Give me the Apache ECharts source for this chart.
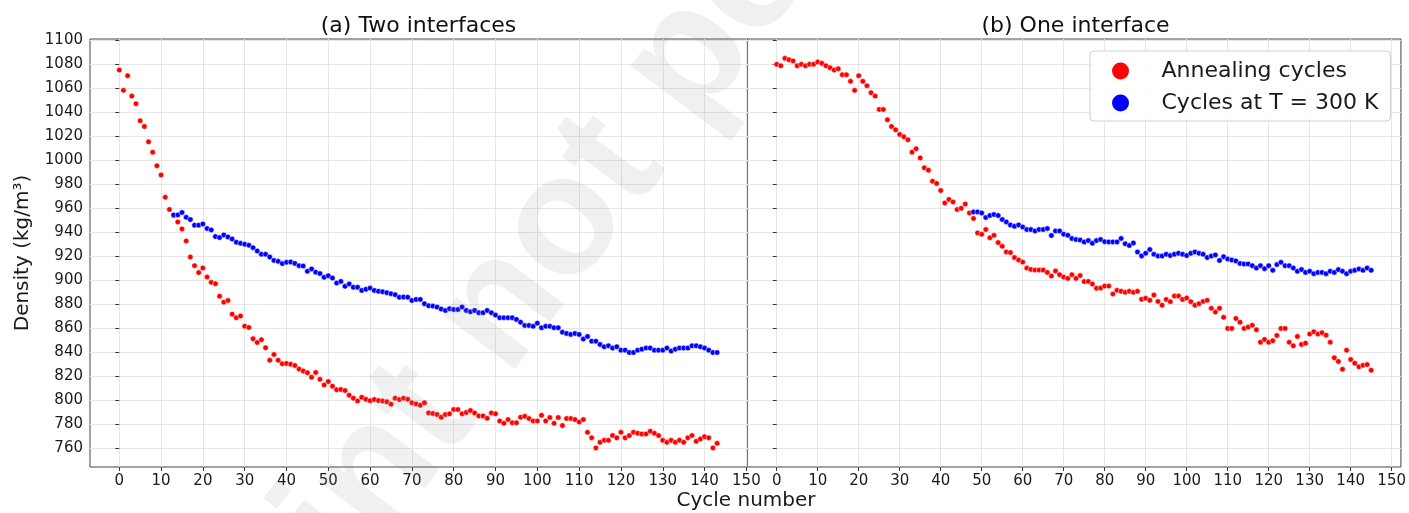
<!DOCTYPE html>
<html><head><meta charset="utf-8">
<script src="https://cdn.jsdelivr.net/npm/echarts@6/dist/echarts.min.js"></script>
<style>html,body{margin:0;padding:0;background:#fff}#c{width:1409px;height:513px}</style>
</head><body><div id="c"></div>
<script>
const seriesNames = ['Annealing cycles', 'Cycles at T = 300 K'];
const panelTitles = ['(a) Two interfaces', '(b) One interface'];
const xAxisTitle = 'Cycle number';
const yAxisTitle = 'Density (kg/m³)';
const watermarkText = 'Preprint not peer reviewed';
const xTicks = [0,10,20,30,40,50,60,70,80,90,100,110,120,130,140,150];
const yTicks = [760,780,800,820,840,860,880,900,920,940,960,980,1000,1020,1040,1060,1080,1100];

// (a) Two interfaces: annealing cycles start at cycle 0
const leftAnnealStart = 0;
const leftAnneal = [1075.2,1058.3,1070.5,1053.5,1047.1,1032.9,1028.2,1015.4,1006.8,995.4,
987.8,969.3,959.0,954.0,948.6,942.8,932.8,919.4,912.2,906.4,
910.2,902.7,898.3,897.2,886.8,881.8,883.2,871.8,868.8,870.2,
861.8,860.7,851.3,848.2,850.5,843.8,833.4,838.2,833.4,830.4,
830.7,830.1,829.0,826.0,824.5,823.0,819.2,823.2,817.5,812.8,
815.6,811.8,808.8,809.0,808.1,804.3,801.7,799.5,802.5,800.8,
799.7,800.6,799.8,799.5,798.7,796.8,801.7,800.6,801.7,800.8,
797.9,797.0,795.9,797.9,789.5,789.0,788.1,785.9,788.1,788.7,
792.3,792.3,788.7,789.8,791.4,789.5,787.0,787.0,785.0,789.5,
788.7,782.8,780.8,783.9,781.2,781.2,785.9,786.7,784.8,782.8,
782.8,787.5,782.8,785.6,780.8,785.6,778.9,784.8,784.8,783.9,
782.0,783.9,773.3,768.7,760.3,765.0,766.6,766.6,770.6,768.7,
773.3,768.7,770.6,773.3,772.5,772.0,772.0,774.2,772.5,770.6,
766.6,765.0,766.6,765.0,766.6,765.0,768.7,770.6,765.8,767.8,
769.7,768.7,760.3,764.1];
// (a) cycles at 300 K start at cycle 13
const leftRoomStart = 13;
const leftRoom = [954.5,954.5,956.5,952.5,950.6,945.9,945.9,946.9,943.1,942.0,
936.4,935.6,937.8,936.1,934.4,931.7,930.8,930.0,929.2,927.2,
924.4,921.7,921.7,919.4,916.6,915.8,913.9,915.0,915.2,914.1,
912.2,911.9,907.5,909.5,906.8,905.6,902.5,903.8,901.9,897.7,
899.1,895.0,897.0,894.2,894.2,891.6,892.5,893.5,891.6,890.8,
890.5,889.7,888.8,888.0,885.8,886.0,885.9,883.2,884.1,884.1,
880.5,878.8,878.5,877.7,876.0,874.9,876.3,875.7,875.7,877.7,
874.9,873.8,874.9,873.0,873.0,874.9,873.0,871.0,868.8,868.8,
868.8,868.8,867.4,865.1,862.4,862.4,861.6,864.3,860.5,861.6,
861.6,860.5,860.5,856.8,855.7,854.9,855.7,854.9,851.0,853.2,
849.3,849.3,846.5,844.6,845.4,843.5,844.6,841.8,841.8,839.8,
839.8,841.8,842.6,843.5,843.5,841.8,841.8,841.8,843.5,841.0,
842.6,843.5,843.5,843.5,845.4,845.4,844.6,843.5,841.8,839.8,
839.8];

// (b) One interface
const rightAnnealStart = 0;
const rightAnneal = [1080.0,1078.8,1085.0,1083.8,1082.8,1078.8,1080.0,1078.8,1080.0,1080.0,
1081.9,1080.8,1078.8,1077.2,1075.2,1076.3,1071.3,1071.3,1065.8,1058.3,
1070.5,1065.8,1062.1,1056.3,1053.5,1042.4,1042.4,1033.8,1028.2,1025.4,
1021.6,1019.6,1017.1,1006.8,1009.6,1002.0,993.7,991.8,982.6,980.7,
974.8,964.5,967.4,965.3,959.0,960.0,963.6,956.1,951.5,939.5,
938.4,942.3,935.5,937.5,931.4,928.3,923.6,923.1,918.9,916.9,
915.2,910.2,909.1,908.5,908.5,908.5,906.6,903.5,907.7,904.7,
902.7,901.6,904.7,901.6,903.9,898.9,899.1,896.9,893.3,893.5,
895.2,895.2,888.6,891.7,890.8,890.0,890.8,890.0,890.8,884.2,
885.0,883.3,887.7,882.4,879.3,884.1,882.2,886.9,886.9,884.1,
885.2,882.2,879.3,880.5,882.4,883.3,876.6,873.5,876.6,869.1,
859.9,859.9,868.2,865.1,859.9,861.0,862.6,858.8,848.4,850.7,
848.4,849.6,854.0,859.9,859.9,848.4,845.4,853.2,846.5,847.6,
855.2,857.1,855.2,856.3,854.3,848.4,835.4,832.3,825.9,841.8,
834.0,830.9,827.9,829.2,829.8,825.1];
const rightRoomStart = 48;
const rightRoom = [957.0,957.0,956.1,952.3,954.0,954.8,954.0,950.6,948.6,946.1,
945.0,946.1,944.4,942.3,942.3,941.1,942.3,942.3,943.1,937.3,
941.1,941.1,938.4,937.5,934.8,934.0,933.6,932.0,933.1,930.8,
933.1,934.0,932.2,932.0,932.0,932.0,934.9,930.4,929.0,931.1,
923.6,920.3,922.5,925.6,921.7,920.3,920.3,921.7,920.6,921.7,
922.5,921.7,920.6,922.5,923.6,922.5,921.7,918.9,920.2,921.1,
916.6,919.7,917.7,916.9,916.1,914.1,913.6,913.6,912.2,910.2,
912.2,909.7,912.2,908.3,913.1,915.0,912.2,912.2,910.2,907.5,
908.9,906.6,907.5,905.5,906.6,906.6,905.5,907.5,906.6,908.9,
907.5,905.5,907.5,908.3,909.4,908.3,910.2,908.3];

const colors = ['#ff0000', '#0000ff'];
const FONT = 'DejaVu Sans';
const toPoints = (arr, start) => arr.map((v, i) => [start + i, v]);

const gridDefs = [
  {left: 90, top: 39, width: 657, height: 428},
  {left: 747, top: 39, width: 657, height: 428}
];
const xRanges = [[-7, 150.15], [-7.25, 152.25]];
const yRange = [744.4, 1101.1];

const chart = echarts.init(document.getElementById('c'), null, {renderer: 'canvas'});
const plain = v => String(Math.round(v));

const xAxes = xRanges.map((r, i) => ({
  type: 'value', gridIndex: i, min: r[0], max: r[1],
  axisLine: {show: false},
  axisTick: {show: true, inside: false, length: 4, customValues: xTicks, lineStyle: {color: '#333', width: 1}},
  axisLabel: {customValues: xTicks, formatter: plain, fontSize: 15, fontFamily: FONT, color: '#1a1a1a', margin: 7},
  splitLine: {show: true, lineStyle: {color: '#e6e6e6', width: 1}}
}));
const yAxes = [0, 1].map(i => ({
  type: 'value', gridIndex: i, min: yRange[0], max: yRange[1],
  axisLine: {show: false},
  axisTick: {show: true, inside: false, length: 4, customValues: yTicks, lineStyle: {color: '#333', width: 1}},
  axisLabel: {show: i === 0, customValues: yTicks, formatter: plain, fontSize: 15, fontFamily: FONT, color: '#1a1a1a', margin: 7},
  splitLine: {show: true, lineStyle: {color: '#e6e6e6', width: 1}},
  name: i === 0 ? yAxisTitle : '',
  nameLocation: 'middle', nameGap: 57, nameRotate: 90,
  nameTextStyle: {fontSize: 20, fontFamily: FONT, color: '#1a1a1a'}
}));

function scatter(name, data, idx, color) {
  return {
    name: name, type: 'scatter', xAxisIndex: idx, yAxisIndex: idx,
    data: data, symbol: 'circle', symbolSize: 5.5,
    itemStyle: {color: color, borderColor: '#ffffff', borderWidth: 0.5, opacity: 1},
    silent: true
  };
}

const series = [
  scatter(seriesNames[0], toPoints(leftAnneal, leftAnnealStart), 0, colors[0]),
  scatter(seriesNames[1], toPoints(leftRoom, leftRoomStart), 0, colors[1]),
  scatter(seriesNames[0], toPoints(rightAnneal, rightAnnealStart), 1, colors[0]),
  scatter(seriesNames[1], toPoints(rightRoom, rightRoomStart), 1, colors[1])
];

const titleCenters = gridDefs.map(g => g.left + g.width / 2);

chart.setOption({
  animation: false,
  backgroundColor: '#ffffff',
  grid: gridDefs.map(g => Object.assign({show: true, borderColor: '#444', borderWidth: 1, backgroundColor: 'transparent'}, g)),
  xAxis: xAxes,
  yAxis: yAxes,
  legend: {
    data: seriesNames, orient: 'vertical', left: 1090, top: 51,
    icon: 'circle', itemWidth: 60, itemHeight: 17, itemGap: 10,
    padding: [9, 12, 7, 22],
    backgroundColor: 'rgba(255,255,255,0.85)', borderColor: '#d0d0d0', borderWidth: 1, borderRadius: 4,
    itemStyle: {borderWidth: 0},
    textStyle: {fontSize: 22, fontFamily: FONT, color: '#1a1a1a', padding: [0, 0, 0, 6]},
    selectedMode: false
  },
  graphic: [
    {type: 'text', x: titleCenters[0], y: 26.5, silent: true,
     style: {text: panelTitles[0], font: '22px "DejaVu Sans"', fill: '#111', align: 'center', verticalAlign: 'middle', textAlign: 'center', textVerticalAlign: 'middle'}},
    {type: 'text', x: titleCenters[1], y: 26.5, silent: true,
     style: {text: panelTitles[1], font: '22px "DejaVu Sans"', fill: '#111', align: 'center', verticalAlign: 'middle', textAlign: 'center', textVerticalAlign: 'middle'}},
    {type: 'text', x: 746, y: 501, silent: true,
     style: {text: xAxisTitle, font: '20px "DejaVu Sans"', fill: '#1a1a1a', align: 'center', verticalAlign: 'middle', textAlign: 'center', textVerticalAlign: 'middle'}},
    {type: 'text', x: 695, y: 52, rotation: 53 * Math.PI / 180, silent: true, z: 100,
     style: {text: watermarkText, font: 'bold 170px "Liberation Sans"', fill: 'rgba(128,128,128,0.12)', align: 'center', verticalAlign: 'middle', textAlign: 'center', textVerticalAlign: 'middle'}}
  ],
  series: series
});
</script>
</body></html>
